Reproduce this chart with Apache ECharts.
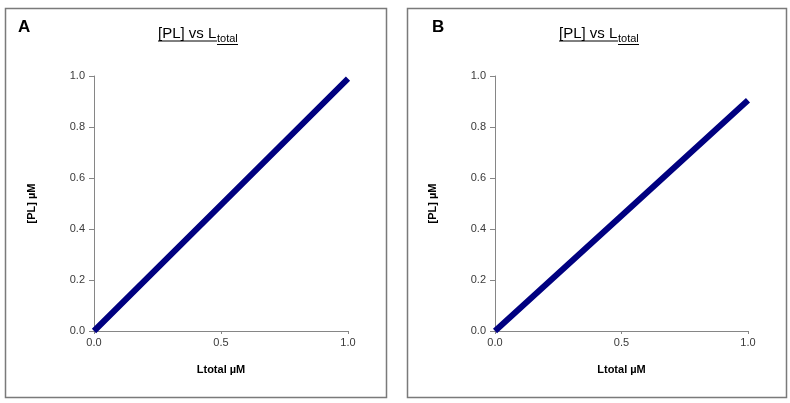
<!DOCTYPE html>
<html><head><meta charset="utf-8">
<script src="https://cdn.jsdelivr.net/npm/echarts@6/dist/echarts.min.js"></script>
<style>html,body{margin:0;padding:0;background:#fff}#c{width:790px;height:403px}</style>
</head><body><div id="c"></div>
<script>
const panelLabels = ["A", "B"];
const titleMain = "[PL] vs L";
const titleSub = "total";
const xName = "Ltotal \u00b5M";
const yName = "[PL] \u00b5M";
const xValues = [0, 0.5, 1.0];
const seriesA = [0, 0.495, 0.99];
const seriesB = [0, 0.452, 0.905];
const xTicks = {min: 0, max: 1, interval: 0.5};
const yTicks = {min: 0, max: 1, interval: 0.2};

const chart = echarts.init(document.getElementById('c'), null, {renderer: 'canvas'});
const FONT = 'Liberation Sans, Arial, sans-serif';
const axisColor = '#868686';

const panels = [
  {box: [5, 8, 381, 389], grid: {left: 94, right: 442, top: 76, bottom: 72}, cx: 198, lx: 18},
  {box: [407, 8, 379, 389], grid: {left: 495, right: 42, top: 76, bottom: 72}, cx: 599, lx: 432}
];

function xAxis(i) {
  return {
    type: 'value', gridIndex: i, min: xTicks.min, max: xTicks.max, interval: xTicks.interval,
    name: xName, nameLocation: 'middle', nameGap: 33,
    nameTextStyle: {fontFamily: FONT, fontSize: 11, fontWeight: 'bold', color: '#000'},
    axisLine: {show: true, lineStyle: {color: axisColor, width: 1}},
    axisTick: {show: true, length: 3, lineStyle: {color: axisColor}},
    axisLabel: {margin: 6, fontFamily: FONT, fontSize: 11, color: '#3a3a3a', formatter: v => v.toFixed(1)},
    splitLine: {show: false}
  };
}
function yAxis(i) {
  return {
    type: 'value', gridIndex: i, min: yTicks.min, max: yTicks.max, interval: yTicks.interval,
    name: yName, nameLocation: 'middle', nameGap: 57, nameRotate: 90,
    nameTextStyle: {fontFamily: FONT, fontSize: 11, fontWeight: 'bold', color: '#000'},
    axisLine: {show: true, lineStyle: {color: axisColor, width: 1}},
    axisTick: {show: true, length: 5, lineStyle: {color: axisColor}},
    axisLabel: {margin: 9, fontFamily: FONT, fontSize: 11, color: '#3a3a3a', formatter: v => v.toFixed(1)},
    splitLine: {show: false}
  };
}

const graphics = [];
panels.forEach((p, i) => {
  graphics.push({type: 'rect', shape: {x: p.box[0] + 0.5, y: p.box[1] + 0.5, width: p.box[2], height: p.box[3]},
    style: {fill: 'none', stroke: '#7a7a7a', lineWidth: 1.5}, silent: true, z: 0});
  graphics.push({type: 'text', x: p.lx, y: 19, style: {text: panelLabels[i], font: 'bold 17px ' + FONT, fill: '#000'}});
  const mainW = 59, subW = 21;
  const startX = p.cx - (mainW + subW) / 2;
  graphics.push({type: 'text', x: startX, y: 26, style: {text: titleMain, font: '15px ' + FONT, fill: '#000'}});
  graphics.push({type: 'text', x: startX + mainW, y: 33, style: {text: titleSub, font: '11px ' + FONT, fill: '#000'}});
  graphics.push({type: 'line', shape: {x1: startX, y1: 41, x2: startX + mainW, y2: 41}, style: {stroke: '#000', lineWidth: 1}});
  graphics.push({type: 'line', shape: {x1: startX + mainW, y1: 44.5, x2: startX + mainW + subW, y2: 44.5}, style: {stroke: '#000', lineWidth: 1}});
});

const option = {
  animation: false,
  backgroundColor: '#fff',
  grid: panels.map(p => Object.assign({containLabel: false}, p.grid)),
  xAxis: [xAxis(0), xAxis(1)],
  yAxis: [yAxis(0), yAxis(1)],
  series: [seriesA, seriesB].map((s, i) => ({
    type: 'line', xAxisIndex: i, yAxisIndex: i,
    data: xValues.map((x, k) => [x, s[k]]),
    showSymbol: false, symbol: 'none',
    lineStyle: {color: '#000080', width: 6, cap: 'butt'},
    z: 3
  })),
  graphic: graphics
};
chart.setOption(option);
</script>
</body></html>
